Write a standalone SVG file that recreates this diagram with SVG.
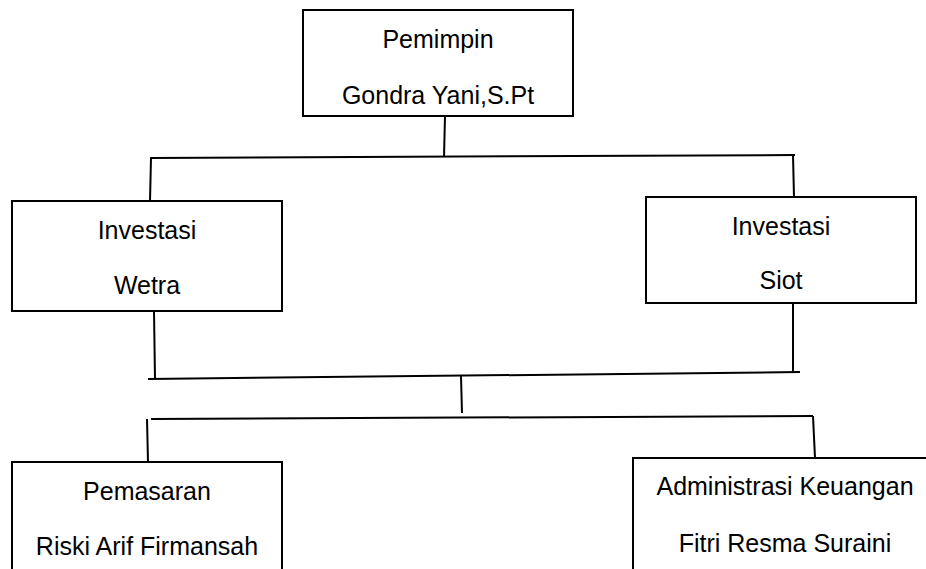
<svg xmlns="http://www.w3.org/2000/svg" width="926" height="569" viewBox="0 0 926 569">
<style>
.box{fill:#fff;stroke:#000;stroke-width:2}
.ln{fill:none;stroke:#000;stroke-width:2}
text{font-family:"Liberation Sans",Arial,sans-serif;font-size:25px;fill:#000;text-anchor:middle}
</style>
<rect width="926" height="569" fill="#fff"/>
<g id="connectors">
<line class="ln" x1="445" y1="116" x2="444" y2="157"/>
<line class="ln" x1="150" y1="158" x2="795" y2="155"/>
<line class="ln" x1="151" y1="158" x2="150" y2="201"/>
<line class="ln" x1="793" y1="155" x2="794" y2="197"/>
<line class="ln" x1="154" y1="311" x2="155" y2="379"/>
<line class="ln" x1="793" y1="303" x2="793" y2="372"/>
<line class="ln" x1="148" y1="379" x2="800" y2="372"/>
<line class="ln" x1="461" y1="376" x2="462" y2="413"/>
<line class="ln" x1="151" y1="419" x2="813" y2="416"/>
<line class="ln" x1="147" y1="419" x2="148" y2="462"/>
<line class="ln" x1="813" y1="416" x2="815" y2="458"/>
</g>
<g id="pemimpin">
<rect class="box" x="303" y="10" width="270" height="106"/>
<text x="438" y="48">Pemimpin</text>
<text x="438" y="104">Gondra Yani,S.Pt</text>
</g>
<g id="investasi-wetra">
<rect class="box" x="12" y="201" width="270" height="110"/>
<text x="147" y="239">Investasi</text>
<text x="147" y="294">Wetra</text>
</g>
<g id="investasi-siot">
<rect class="box" x="646" y="197" width="270" height="106"/>
<text x="781" y="235">Investasi</text>
<text x="781" y="289">Siot</text>
</g>
<g id="pemasaran">
<rect class="box" x="12" y="462" width="270" height="130"/>
<text x="147" y="500">Pemasaran</text>
<text x="147" y="555">Riski Arif Firmansah</text>
</g>
<g id="administrasi">
<rect class="box" x="633" y="458" width="300" height="130"/>
<text x="785" y="495">Administrasi Keuangan</text>
<text x="785" y="552">Fitri Resma Suraini</text>
</g>
</svg>
